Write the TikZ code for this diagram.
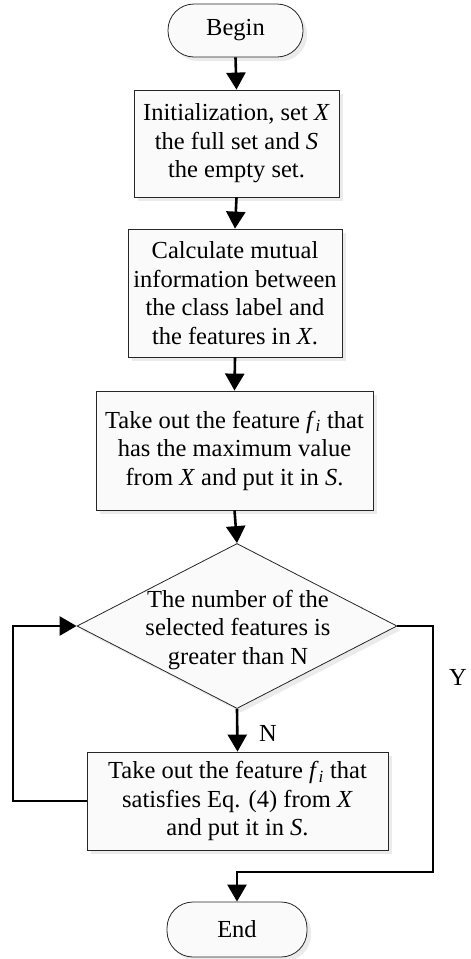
\documentclass[tikz,border=0pt]{standalone}
\usepackage{fontspec}
\setmainfont{Liberation Serif}
\usetikzlibrary{shapes.geometric,arrows.meta,shadows}
\begin{document}
\begin{tikzpicture}[x=1pt,y=-1pt,
  base/.style={draw=black!85, line width=0.8pt, fill=gray!4,
    drop shadow={shadow xshift=4pt, shadow yshift=-4pt, fill=gray!35, opacity=0.45},
    font=\fontsize{24.5}{28.5}\selectfont, align=center, inner sep=0pt},
  procbox/.style={base, rectangle},
  term/.style={base, rectangle, rounded corners=26pt},
  decbox/.style={base, diamond},
  lbl/.style={font=\fontsize{24.5}{28.5}\selectfont, inner sep=0pt},
  conn/.style={line width=2.6pt, -{Triangle[length=17pt,width=19pt]}},
  plain/.style={line width=2.6pt}
]
\useasboundingbox (0,0) rectangle (471,959);
\node[term, minimum width=135pt, minimum height=53pt] (begin) at (235.5,30.5) {Begin};
\node[procbox, minimum width=205pt, minimum height=107pt] (b1) at (236.5,143.5)
  {Initialization, set \textit{X}\\the full set and \textit{S}\\the empty set.};
\node[procbox, minimum width=214pt, minimum height=128pt] (b2) at (235,293)
  {Calculate mutual\\information between\\the class label and\\the features in \textit{X}.};
\node[procbox, minimum width=277pt, minimum height=119pt] (b3) at (234.5,450.5)
  {Take out the feature \textit{f}\textsubscript{\textit{i}} that\\has the maximum value\\from \textit{X} and put it in \textit{S}.};
\node[decbox, minimum width=320pt, minimum height=165pt] (dec) at (237,626) {};
\node[lbl, align=center] (dectext) at (238,630)
  {The number of the\\selected features is\\greater than N};
\node[procbox, minimum width=301pt, minimum height=98pt] (b4) at (237.5,801)
  {Take out the feature \textit{f}\textsubscript{\textit{i}} that\\satisfies Eq. (4) from \textit{X}\\and put it in \textit{S}.};
\node[term, minimum width=140pt, minimum height=55pt] (end) at (237,929.5) {End};
\coordinate (lx1) at (13,801);
\coordinate (lx2) at (13,626);
\coordinate (rx1) at (433,626);
\coordinate (rx2) at (433,872);
\coordinate (rx3) at (237,872);
\node[lbl] (ylab) at (458,677) {Y};
\node[lbl] (nlab) at (268,733) {N};
\draw[conn] (begin.south) -- (b1.north);
\draw[conn] (b1.south) -- (b2.north);
\draw[conn] (b2.south) -- (b3.north);
\draw[conn] (b3.south) -- (dec.north);
\draw[conn] (dec.south) -- (b4.north);
\draw[conn] (b4.west) -- (lx1) -- (lx2) -- (dec.west);
\draw[conn] (dec.east) -- (rx1) -- (rx2) -- (rx3) -- (end.north);
\end{tikzpicture}
\end{document}
